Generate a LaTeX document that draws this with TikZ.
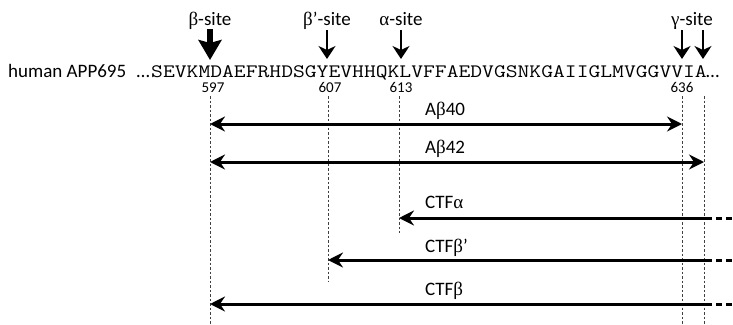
\documentclass[tikz,border=0pt]{standalone}
\usepackage{fontspec}
\setmainfont{Carlito}
\newfontfamily\grkfont{Liberation Serif}
\usetikzlibrary{arrows.meta}
\newcommand{\gkb}{{\grkfont β}}
\newcommand{\gka}{{\grkfont α}}
\newcommand{\gkg}{{\grkfont γ}}
\begin{document}
\begin{tikzpicture}[x=1pt,y=-1pt,
  lbl/.style={font=\fontsize{19}{22}\selectfont, inner sep=0pt, anchor=base},
  fraglbl/.style={font=\fontsize{19}{22}\selectfont, inner sep=0pt, anchor=base west},
  num/.style={font=\fontsize{15}{17}\selectfont, inner sep=0pt, anchor=base},
  guide/.style={line width=0.8pt, dash pattern=on 2.5pt off 2pt, black!75},
  cut/.style={line width=1.8pt, -{Stealth[length=13pt,width=17pt,inset=4pt]}},
  bigcut/.style={line width=6.5pt, -{Stealth[length=20pt,width=23pt,inset=3pt]}},
  frag/.style={line width=3pt, {Stealth[length=15pt,width=15pt,inset=5pt]}-{Stealth[length=15pt,width=15pt,inset=5pt]}},
  ctf/.style={line width=3pt, -{Stealth[length=15pt,width=15pt,inset=5pt]}},
  ctfdash/.style={line width=3pt, dash pattern=on 6pt off 4pt},
]
\useasboundingbox (0,0) rectangle (733,324);
% sequence
\node[anchor=base west, inner sep=0pt, font=\fontsize{19}{22}\selectfont] (name) at (8,77) {human APP695};
\node[anchor=base east, inner sep=0pt, font=\fontsize{19}{22}\selectfont] (ell1) at (150,77) {…};
\node[anchor=base west, inner sep=0pt, text depth=0pt, xscale=1.208, font=\ttfamily\fontsize{19}{22}\selectfont] (seq) at (151,77) {SEVKMDAEFRHDSGYEVHHQKLVFFAEDVGSNKGAIIGLMVGGVVIA};
\node[anchor=base west, inner sep=0pt, font=\fontsize{19}{22}\selectfont] (ell2) at (706,77) {…};
% residue numbers
\node[num] (n597) at (213,92) {597};
\node[num] (n607) at (330,92) {607};
\node[num] (n613) at (401,92) {613};
\node[num] (n636) at (682,92) {636};
% site labels
\node[lbl] (sb) at (210,25) {\gkb-site};
\node[lbl] (sbp) at (327,25) {\gkb’-site};
\node[lbl] (sa) at (401,25) {\gka-site};
\node[lbl] (sg) at (692,25) {\gkg-site};
% cut arrows
\coordinate (cb1) at (210,29); \coordinate (cb2) at (210,60);
\coordinate (cbp1) at (327,30); \coordinate (cbp2) at (327,59);
\coordinate (ca1) at (401,30); \coordinate (ca2) at (401,59);
\coordinate (cg1) at (682,30); \coordinate (cg2) at (682,59);
\coordinate (ch1) at (703,30); \coordinate (ch2) at (703,59);
\draw[bigcut] (cb1) -- (cb2);
\draw[cut] (cbp1) -- (cbp2);
\draw[cut] (ca1) -- (ca2);
\draw[cut] (cg1) -- (cg2);
\draw[cut] (ch1) -- (ch2);
% guides
\coordinate (g597t) at (210,96); \coordinate (g597b) at (210,324);
\coordinate (g607t) at (328,96); \coordinate (g607b) at (328,282);
\coordinate (g613t) at (399,96); \coordinate (g613b) at (399,233);
\coordinate (g636t) at (682,96); \coordinate (g636b) at (682,324);
\coordinate (g638t) at (704,96); \coordinate (g638b) at (704,324);
\draw[guide] (g597t) -- (g597b);
\draw[guide] (g607t) -- (g607b);
\draw[guide] (g613t) -- (g613b);
\draw[guide] (g636t) -- (g636b);
\draw[guide] (g638t) -- (g638b);
% fragments
\coordinate (a40l) at (210,124); \coordinate (a40r) at (682,124);
\coordinate (a42l) at (210,162); \coordinate (a42r) at (704,162);
\draw[frag] (a40l) -- (a40r);
\draw[frag] (a42l) -- (a42r);
\node[fraglbl] (la40) at (425,115) {A\gkb40};
\node[fraglbl] (la42) at (425,153) {A\gkb42};
\coordinate (ctaR) at (712,218); \coordinate (ctaL) at (399,218); \coordinate (ctaD) at (716,218); \coordinate (ctaE) at (733,218);
\coordinate (ctbpR) at (712,260); \coordinate (ctbpL) at (328,260); \coordinate (ctbpD) at (716,260); \coordinate (ctbpE) at (733,260);
\coordinate (ctbR) at (712,304); \coordinate (ctbL) at (210,304); \coordinate (ctbD) at (716,304); \coordinate (ctbE) at (733,304);
\draw[ctf] (ctaR) -- (ctaL);
\draw[ctfdash] (ctaD) -- (ctaE);
\draw[ctf] (ctbpR) -- (ctbpL);
\draw[ctfdash] (ctbpD) -- (ctbpE);
\draw[ctf] (ctbR) -- (ctbL);
\draw[ctfdash] (ctbD) -- (ctbE);
\node[fraglbl] (lca) at (425,208) {CTF\gka};
\node[fraglbl] (lcbp) at (425,252) {CTF\gkb’};
\node[fraglbl] (lcb) at (425,295) {CTF\gkb};
\end{tikzpicture}
\end{document}
